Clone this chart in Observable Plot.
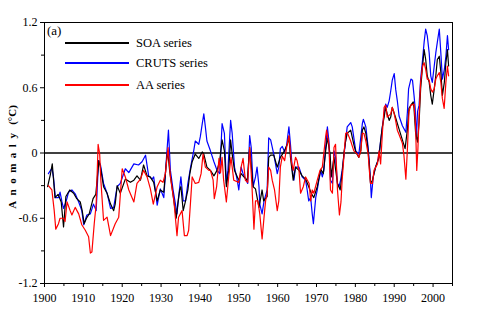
<!DOCTYPE html>
<html>
<head>
<meta charset="utf-8">
<script src="https://cdn.jsdelivr.net/npm/d3@7"></script>
<script src="https://cdn.jsdelivr.net/npm/@observablehq/plot@0.6"></script>
<style>
  html, body { margin: 0; padding: 0; background: #fff; }
  #wrap { position: relative; width: 497px; height: 321px; font-family: 'Liberation Serif', 'DejaVu Serif', serif; color: #000; }
  #wrap svg { position: absolute; left: 0; top: 0; }
  #wrap svg text { font-family: 'Liberation Serif', 'DejaVu Serif', serif; }
  .tag { position: absolute; font-size: 13px; line-height: 1; }
  .leg-line { position: absolute; height: 2px; }
  .leg-text { position: absolute; font-size: 12.5px; line-height: 1; transform: translateY(-50%); white-space: nowrap; }
  #ytitle { position: absolute; left: 12px; top: 157px; font-size: 11px; font-weight: bold; white-space: nowrap; transform: translate(-50%, -50%) rotate(-90deg); }
  #ytitle .sp { letter-spacing: 5.5px; }
</style>
</head>
<body>
<div id="wrap"></div>
<script>
// ---- data ----
const soaYear = [1900.8,1901.5,1902.0,1902.7,1903.5,1904.3,1904.9,1905.5,1906.5,1907.5,1908.3,1909.2,1909.7,1910.2,1910.8,1911.5,1912.5,1913.2,1914.0,1914.4,1915.2,1916.1,1917.0,1917.8,1918.2,1918.7,1919.5,1920.8,1922.1,1923.0,1923.8,1924.7,1925.5,1926.4,1927.2,1928.1,1929.0,1929.8,1930.7,1931.4,1931.7,1932.2,1932.8,1933.3,1933.9,1934.3,1934.8,1935.1,1935.7,1936.3,1936.9,1937.4,1938.0,1938.8,1939.7,1940.6,1941.0,1941.8,1942.7,1943.6,1944.4,1945.1,1945.7,1946.3,1946.8,1947.4,1947.9,1948.3,1948.9,1950.0,1950.6,1951.3,1952.2,1952.8,1953.7,1954.3,1955.2,1956.0,1956.4,1957.3,1957.7,1958.2,1959.0,1959.9,1960.7,1961.6,1962.5,1962.9,1963.3,1964.0,1964.6,1965.5,1966.3,1967.2,1968.0,1968.65,1969.3,1970.2,1971.1,1971.75,1972.35,1972.8,1973.5,1973.8,1974.5,1975.4,1976.1,1976.6,1977.1,1977.5,1977.9,1978.8,1979.6,1980.1,1980.9,1981.4,1981.8,1982.2,1982.7,1983.1,1983.5,1983.9,1984.4,1985.2,1986.1,1986.5,1986.95,1987.4,1987.8,1988.2,1988.7,1989.1,1989.5,1990.4,1991.25,1992.1,1992.8,1993.4,1993.8,1994.3,1994.9,1995.1,1995.5,1996.0,1996.4,1996.8,1997.3,1997.7,1998.1,1998.5,1999.0,1999.4,1999.8,2000.3,2000.7,2001.1,2001.6,2002.0,2002.4,2002.9,2003.3,2003.7,2004.0];
const soaValue = [-0.31,-0.20,-0.10,-0.41,-0.38,-0.45,-0.68,-0.40,-0.34,-0.37,-0.42,-0.45,-0.53,-0.65,-0.60,-0.56,-0.42,-0.38,-0.07,-0.13,-0.31,-0.37,-0.47,-0.53,-0.47,-0.30,-0.37,-0.24,-0.27,-0.25,-0.21,-0.25,-0.11,-0.21,-0.22,-0.27,-0.44,-0.34,-0.36,-0.07,0.02,-0.16,-0.31,-0.44,-0.60,-0.47,-0.34,-0.31,-0.53,-0.44,-0.34,-0.19,-0.08,-0.01,-0.05,0.01,-0.01,-0.13,-0.16,-0.21,-0.16,-0.07,0.12,0.02,-0.31,-0.16,0.12,-0.01,-0.16,-0.25,-0.19,-0.22,-0.25,0.05,-0.31,-0.33,-0.50,-0.34,-0.44,-0.40,-0.04,-0.02,-0.02,-0.13,-0.04,0.01,0.08,0.15,-0.04,-0.25,-0.13,-0.16,-0.21,-0.24,-0.31,-0.37,-0.41,-0.31,-0.15,-0.19,0.02,0.14,-0.01,-0.22,-0.04,-0.28,-0.34,-0.19,0.01,0.11,0.18,0.21,0.08,0.01,-0.04,0.02,0.21,0.24,0.18,0.08,-0.07,-0.28,-0.25,-0.13,-0.04,0.11,0.24,0.33,0.42,0.36,0.30,0.33,0.42,0.32,0.22,0.12,0.04,0.22,0.41,0.44,0.47,0.41,0.19,0.10,0.28,0.59,0.80,0.95,0.86,0.71,0.65,0.53,0.45,0.59,0.71,0.86,0.89,0.74,0.53,0.65,0.83,0.95,0.80];

const crutsYear = [1901.0,1901.9,1902.3,1902.8,1903.6,1904.0,1904.5,1904.9,1905.6,1906.2,1907.05,1907.9,1908.8,1909.6,1910.1,1910.9,1911.8,1912.6,1913.3,1913.9,1914.4,1915.2,1916.1,1917.0,1917.8,1918.7,1919.5,1920.8,1921.7,1923.0,1924.2,1925.1,1926.0,1926.8,1927.7,1928.1,1929.0,1929.8,1930.7,1931.4,1931.9,1932.4,1933.1,1933.7,1934.1,1934.5,1935.1,1935.7,1936.3,1936.9,1937.6,1938.4,1938.8,1939.7,1940.1,1940.6,1941.0,1941.4,1941.8,1942.7,1943.6,1944.4,1945.1,1945.7,1946.3,1946.8,1947.2,1947.9,1948.3,1948.9,1949.6,1950.0,1950.6,1951.1,1952.3,1952.8,1953.2,1953.7,1954.3,1954.7,1955.2,1955.4,1956.0,1956.5,1957.3,1957.7,1958.2,1959.0,1959.9,1960.3,1960.7,1961.2,1961.8,1962.3,1962.9,1963.3,1963.8,1964.2,1964.6,1965.5,1966.3,1967.2,1967.6,1968.0,1968.5,1968.9,1969.2,1969.8,1970.2,1970.6,1971.1,1971.5,1971.9,1972.35,1972.8,1973.2,1973.6,1974.1,1974.5,1974.9,1975.4,1975.8,1976.2,1976.6,1977.1,1977.9,1978.8,1979.2,1980.1,1980.9,1981.8,1982.05,1982.7,1983.3,1983.8,1984.1,1984.6,1985.2,1985.8,1986.3,1986.95,1987.4,1987.8,1988.2,1988.7,1989.1,1989.5,1990.0,1990.4,1990.8,1991.25,1992.1,1993.0,1993.4,1993.7,1994.3,1994.7,1995.1,1995.4,1995.7,1996.0,1996.4,1996.8,1997.3,1997.7,1998.1,1998.5,1999.0,1999.4,1999.8,2000.3,2000.7,2001.1,2001.6,2002.0,2002.4,2002.9,2003.3,2003.7,2004.0];
const crutsValue = [-0.19,-0.14,-0.22,-0.41,-0.41,-0.36,-0.45,-0.51,-0.44,-0.36,-0.34,-0.375,-0.45,-0.53,-0.66,-0.57,-0.56,-0.47,-0.53,-0.07,-0.11,-0.28,-0.37,-0.51,-0.50,-0.31,-0.28,-0.145,-0.18,-0.10,-0.11,-0.08,-0.02,-0.21,-0.24,-0.22,-0.48,-0.33,-0.41,-0.04,0.21,-0.16,-0.34,-0.47,-0.56,-0.41,-0.22,-0.44,-0.44,-0.28,-0.13,0.02,0.11,0.08,0.15,0.27,0.36,0.24,0.11,0.02,-0.08,-0.16,-0.19,0.27,0.18,-0.28,-0.16,0.30,0.18,-0.13,-0.25,-0.34,-0.13,-0.19,-0.28,0.16,0.05,-0.31,-0.22,-0.13,-0.31,-0.47,-0.56,-0.44,-0.34,0.14,0.12,-0.01,-0.19,-0.13,0.04,0.06,0.01,0.07,0.24,0.08,-0.16,-0.25,-0.13,-0.13,-0.22,-0.25,-0.34,-0.44,-0.41,-0.56,-0.65,-0.41,-0.34,-0.25,-0.16,-0.22,-0.16,0.05,0.24,0.11,-0.25,-0.28,0.02,-0.04,-0.28,-0.31,-0.25,-0.16,-0.01,0.24,0.28,0.24,0.02,-0.01,0.27,0.31,0.24,0.05,-0.19,-0.41,-0.22,-0.13,-0.07,0.05,0.24,0.36,0.45,0.42,0.48,0.57,0.67,0.73,0.58,0.48,0.34,0.25,0.19,0.38,0.59,0.68,0.67,0.53,0.41,0.13,0.38,0.44,0.68,0.86,1.02,1.14,1.08,0.92,0.71,0.65,0.80,0.92,1.02,1.14,0.92,0.68,0.77,0.89,1.08,0.95];

const aaYear = [1901.0,1901.9,1902.5,1902.9,1903.6,1904.0,1904.9,1905.3,1905.8,1906.6,1907.05,1907.9,1908.8,1909.6,1910.5,1911.35,1911.8,1912.2,1912.8,1913.3,1913.8,1914.2,1914.5,1915.2,1916.1,1917.0,1918.2,1919.1,1920.0,1920.8,1921.7,1923.0,1923.8,1924.7,1925.5,1926.4,1927.25,1928.0,1929.0,1929.8,1930.5,1931.1,1931.8,1932.4,1933.3,1933.9,1934.1,1934.5,1935.4,1936.0,1936.7,1937.1,1937.6,1938.0,1938.8,1939.7,1940.3,1940.8,1941.4,1942.3,1942.7,1943.4,1943.7,1944.3,1944.9,1945.3,1945.7,1946.1,1946.8,1947.4,1948.0,1948.7,1950.0,1950.6,1951.1,1951.7,1952.3,1952.8,1953.4,1953.9,1954.3,1954.9,1955.4,1956.0,1956.5,1956.9,1957.3,1957.7,1958.2,1958.6,1959.2,1959.9,1960.3,1960.7,1961.2,1961.8,1962.3,1962.9,1963.5,1964.0,1964.6,1965.0,1965.5,1965.9,1966.6,1967.2,1968.1,1968.5,1968.9,1969.3,1970.2,1970.9,1971.5,1972.35,1972.6,1973.2,1973.6,1974.1,1974.5,1974.9,1975.4,1975.9,1976.3,1976.6,1977.1,1977.5,1977.9,1978.8,1979.6,1980.5,1980.9,1981.4,1981.8,1982.2,1982.7,1983.3,1983.6,1983.9,1984.4,1984.8,1985.7,1986.1,1986.5,1986.95,1987.4,1987.8,1988.2,1989.1,1989.5,1989.95,1990.4,1990.8,1991.25,1992.1,1992.5,1993.0,1993.4,1993.8,1994.3,1995.1,1995.5,1995.8,1996.1,1996.4,1996.8,1997.3,1997.7,1998.1,1998.5,1999.0,1999.4,1999.8,2000.3,2000.7,2001.1,2001.6,2002.0,2002.4,2002.85,2003.3,2003.7,2004.0];
const aaValue = [-0.30,-0.34,-0.53,-0.70,-0.65,-0.60,-0.60,-0.63,-0.45,-0.53,-0.57,-0.50,-0.56,-0.66,-0.71,-0.77,-0.92,-0.91,-0.65,-0.47,0.08,-0.01,-0.25,-0.62,-0.59,-0.76,-0.65,-0.59,-0.145,-0.22,-0.34,-0.45,-0.28,-0.24,-0.16,-0.22,-0.33,-0.47,-0.31,-0.25,-0.27,-0.19,0.05,-0.22,-0.44,-0.68,-0.76,-0.59,-0.53,-0.76,-0.76,-0.71,-0.44,-0.22,-0.28,-0.27,-0.19,-0.01,-0.13,-0.16,-0.16,-0.25,-0.42,-0.31,-0.05,-0.18,-0.04,-0.25,-0.45,-0.22,-0.04,-0.25,-0.27,-0.13,-0.05,-0.25,-0.27,0.05,-0.31,-0.70,-0.44,-0.44,-0.56,-0.79,-0.59,-0.44,-0.37,-0.13,-0.16,-0.25,-0.34,-0.53,-0.44,-0.13,-0.03,-0.07,0.05,0.16,-0.07,-0.16,-0.04,-0.07,-0.16,-0.37,-0.31,-0.22,-0.28,-0.44,-0.34,-0.37,-0.25,-0.16,-0.13,0.15,0.21,0.08,-0.34,-0.37,0.05,0.08,-0.34,-0.57,-0.45,-0.25,-0.01,0.18,0.19,0.11,0.02,-0.01,-0.04,0.02,0.18,0.18,0.11,-0.01,-0.16,-0.28,-0.28,-0.16,-0.10,0.02,-0.10,0.18,0.42,0.44,0.33,0.36,0.42,0.37,0.29,0.21,0.17,0.09,-0.02,-0.24,0.04,0.38,0.44,0.45,0.25,-0.16,0.04,0.34,0.65,0.80,0.83,0.77,0.68,0.67,0.59,0.56,0.59,0.68,0.71,0.74,0.65,0.50,0.41,0.65,0.80,0.71];

const seriesNames = ["SOA series", "CRUTS series", "AA series"];
const seriesColors = ["#000000", "#0000ff", "#ff0000"];
const panelTag = "(a)";
const yTitleWord = "Anomaly";
const yTitleUnit = "(°C)";
const xTicks = [1900, 1910, 1920, 1930, 1940, 1950, 1960, 1970, 1980, 1990, 2000];
const xMinorTicks = [1905, 1915, 1925, 1935, 1945, 1955, 1965, 1975, 1985, 1995, 2005];
const yTicks = [-1.2, -0.6, 0, 0.6, 1.2];
const yTickLabels = ["-1.2", "-0.6", "0", "0.6", "1.2"];
const yMinorTicks = [-0.9, -0.3, 0.3, 0.9];

// ---- build tables ----
const toRows = (xs, vs) => xs.map((x, i) => ({year: x, value: vs[i]}));
const soa = toRows(soaYear, soaValue);
const cruts = toRows(crutsYear, crutsValue);
const aa = toRows(aaYear, aaValue);

const chart = Plot.plot({
  width: 497,
  height: 321,
  marginLeft: 44,
  marginRight: 45,
  marginTop: 22,
  marginBottom: 38,
  style: {fontFamily: "'Liberation Serif', 'DejaVu Serif', serif", fontSize: "12px", color: "#000", background: "transparent", overflow: "visible"},
  x: {domain: [1900, 2005], label: null},
  y: {domain: [-1.2, 1.2], label: null},
  marks: [
    Plot.ruleY([0], {stroke: "#000", strokeWidth: 1.5}),
    Plot.line(cruts, {x: "year", y: "value", stroke: seriesColors[1], strokeWidth: 1.2}),
    Plot.line(soa, {x: "year", y: "value", stroke: seriesColors[0], strokeWidth: 1.2}),
    Plot.line(aa, {x: "year", y: "value", stroke: seriesColors[2], strokeWidth: 1.2}),
    Plot.frame({stroke: "#000", strokeWidth: 1}),
    Plot.axisX({ticks: xMinorTicks, tickSize: 3, tickFormat: () => "", label: null}),
    Plot.axisX({ticks: xTicks, tickSize: 4, tickPadding: 6, tickFormat: d => String(d), label: null}),
    Plot.axisY({ticks: yMinorTicks, tickSize: 3, tickFormat: () => "", label: null}),
    Plot.axisY({ticks: yTicks, tickSize: 4, tickPadding: 3, tickFormat: d => yTickLabels[yTicks.indexOf(d)], label: null})
  ]
});

const wrap = document.getElementById("wrap");
wrap.appendChild(chart);

// panel tag
const tag = document.createElement("div");
tag.className = "tag";
tag.textContent = panelTag;
tag.style.left = "47px";
tag.style.top = "24px";
wrap.appendChild(tag);

// legend
const legendY = [43, 63, 85];
seriesNames.forEach((name, i) => {
  const ln = document.createElement("div");
  ln.className = "leg-line";
  ln.style.left = "65px";
  ln.style.width = "64px";
  ln.style.top = (legendY[i] - 1) + "px";
  ln.style.background = seriesColors[i];
  wrap.appendChild(ln);
  const tx = document.createElement("div");
  tx.className = "leg-text";
  tx.style.left = "136px";
  tx.style.top = legendY[i] + "px";
  tx.textContent = name;
  wrap.appendChild(tx);
});

// y title
const yt = document.createElement("div");
yt.id = "ytitle";
const sp = document.createElement("span");
sp.className = "sp";
sp.textContent = yTitleWord;
yt.appendChild(sp);
yt.appendChild(document.createTextNode(" " + yTitleUnit));
wrap.appendChild(yt);
</script>
</body>
</html>
